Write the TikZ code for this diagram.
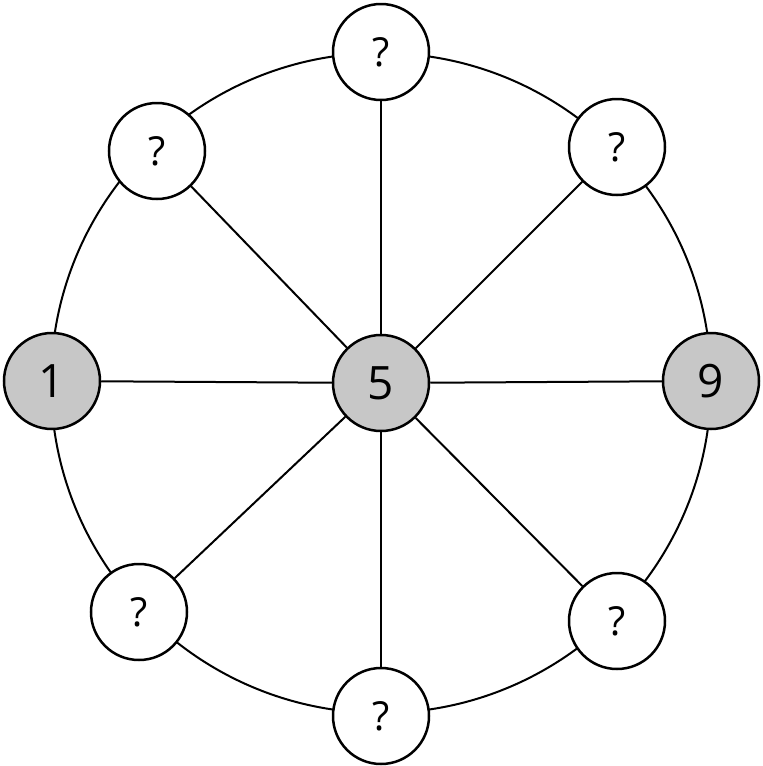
\documentclass[tikz,border=0pt]{standalone}
\usepackage{fontspec}
\setmainfont{Open Sans}
\begin{document}
\begin{tikzpicture}[x=1pt,y=-1pt,
  n/.style={circle,draw,line width=2.5pt,minimum size=96pt,inner sep=0pt,fill=white,font=\fontsize{40}{40}\selectfont},
  g/.style={n,fill=black!22,font=\fontsize{46}{46}\selectfont},
  e/.style={line width=2pt}]
\useasboundingbox (0,0) rectangle (763,766);
\draw[e] (381,383) circle (330);
\node[g] (c) at (381,383) {5};
\node[g] (l) at (52,381) {1};
\node[g] (r) at (711,381) {9};
\node[n] (t) at (381,52) {?};
\node[n] (b) at (381,716) {?};
\node[n] (ul) at (157,151) {?};
\node[n] (ur) at (617,147) {?};
\node[n] (ll) at (139,612) {?};
\node[n] (lr) at (617,621) {?};
\foreach \x in {l,r,t,b,ul,ur,ll,lr} \draw[e] (c) -- (\x);
\end{tikzpicture}
\end{document}
